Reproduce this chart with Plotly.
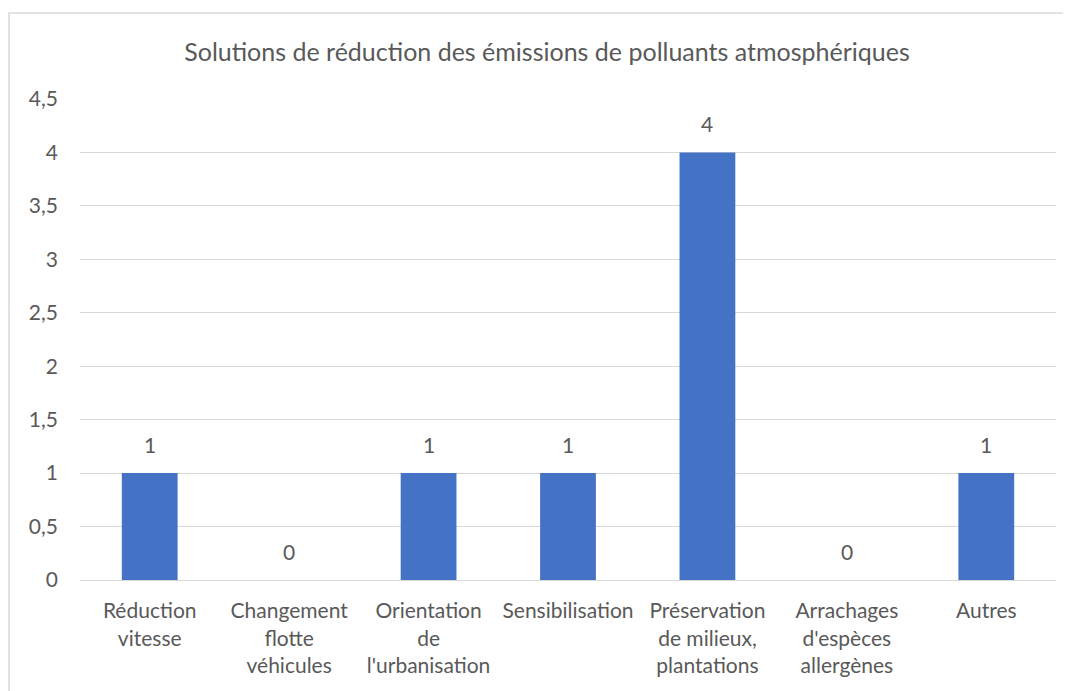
import plotly.graph_objects as go

# Categories and counts
categories = [
    "Réduction<br>vitesse",
    "Changement<br>flotte<br>véhicules",
    "Orientation<br>de<br>l'urbanisation",
    "Sensibilisation",
    "Préservation<br>de milieux,<br>plantations",
    "Arrachages<br>d'espèces<br>allergènes",
    "Autres",
]
counts = [1, 0, 1, 1, 4, 0, 1]
y_ticks = [0, 0.5, 1, 1.5, 2, 2.5, 3, 3.5, 4, 4.5]

title = "Solutions de réduction des émissions de polluants atmosphériques"
text_colour = "#595959"
grid_colour = "#d9d9d9"
bar_colour = "#4472c4"
font_family = "Lato, 'Open Sans', sans-serif"

# page body adds an 8px margin, so the figure is sized to fit inside it
W, H = 1063, 683
ML, MR, MT, MB = 72, 15, 91, 111
plot_w = W - ML - MR
plot_h = H - MT - MB

fig = go.Figure()
fig.add_trace(
    go.Bar(
        x=categories,
        y=counts,
        marker={"color": bar_colour, "line": {"width": 0}},
        hoverinfo="skip",
    )
)

# data labels sit a bit higher above the bars than plotly's outside text
for cat, val in zip(categories, counts):
    fig.add_annotation(
        x=cat,
        y=val,
        text=str(val),
        showarrow=False,
        yanchor="bottom",
        yshift=14,
        font={"size": 21, "color": text_colour, "family": font_family},
    )

fig.update_layout(
    width=W,
    height=H,
    paper_bgcolor="white",
    plot_bgcolor="white",
    separators=", ",
    bargap=0.6,
    showlegend=False,
    margin={"l": ML, "r": MR, "t": MT, "b": MB},
    font={"family": font_family, "size": 21, "color": text_colour},
    title={
        "text": title,
        "x": 539 / W,
        "xanchor": "center",
        "y": 1 - 44 / H,
        "yanchor": "middle",
        "yref": "container",
        "font": {"size": 25, "color": text_colour, "family": font_family},
    },
    xaxis={
        "showgrid": False,
        "showline": True,
        "linecolor": grid_colour,
        "linewidth": 1,
        "ticks": "",
        "ticklabelstandoff": 12,
        "tickfont": {"size": 21},
    },
    yaxis={
        "range": [0, 4.5],
        "tickvals": y_ticks,
        "showgrid": True,
        "gridcolor": grid_colour,
        "gridwidth": 1,
        "zeroline": False,
        "showline": False,
        "ticks": "",
        "ticklabelstandoff": 21,
        "tickfont": {"size": 21},
    },
    shapes=[
        {
            "type": "rect",
            "xref": "paper",
            "yref": "paper",
            "x0": (1 - ML) / plot_w,
            "x1": (1061 - ML) / plot_w,
            "y0": -0.4,
            "y1": (H - MB - 5) / plot_h,
            "line": {"color": grid_colour, "width": 1.5},
            "fillcolor": "rgba(0,0,0,0)",
            "layer": "below",
        }
    ],
)

fig.write_html("out.html")
